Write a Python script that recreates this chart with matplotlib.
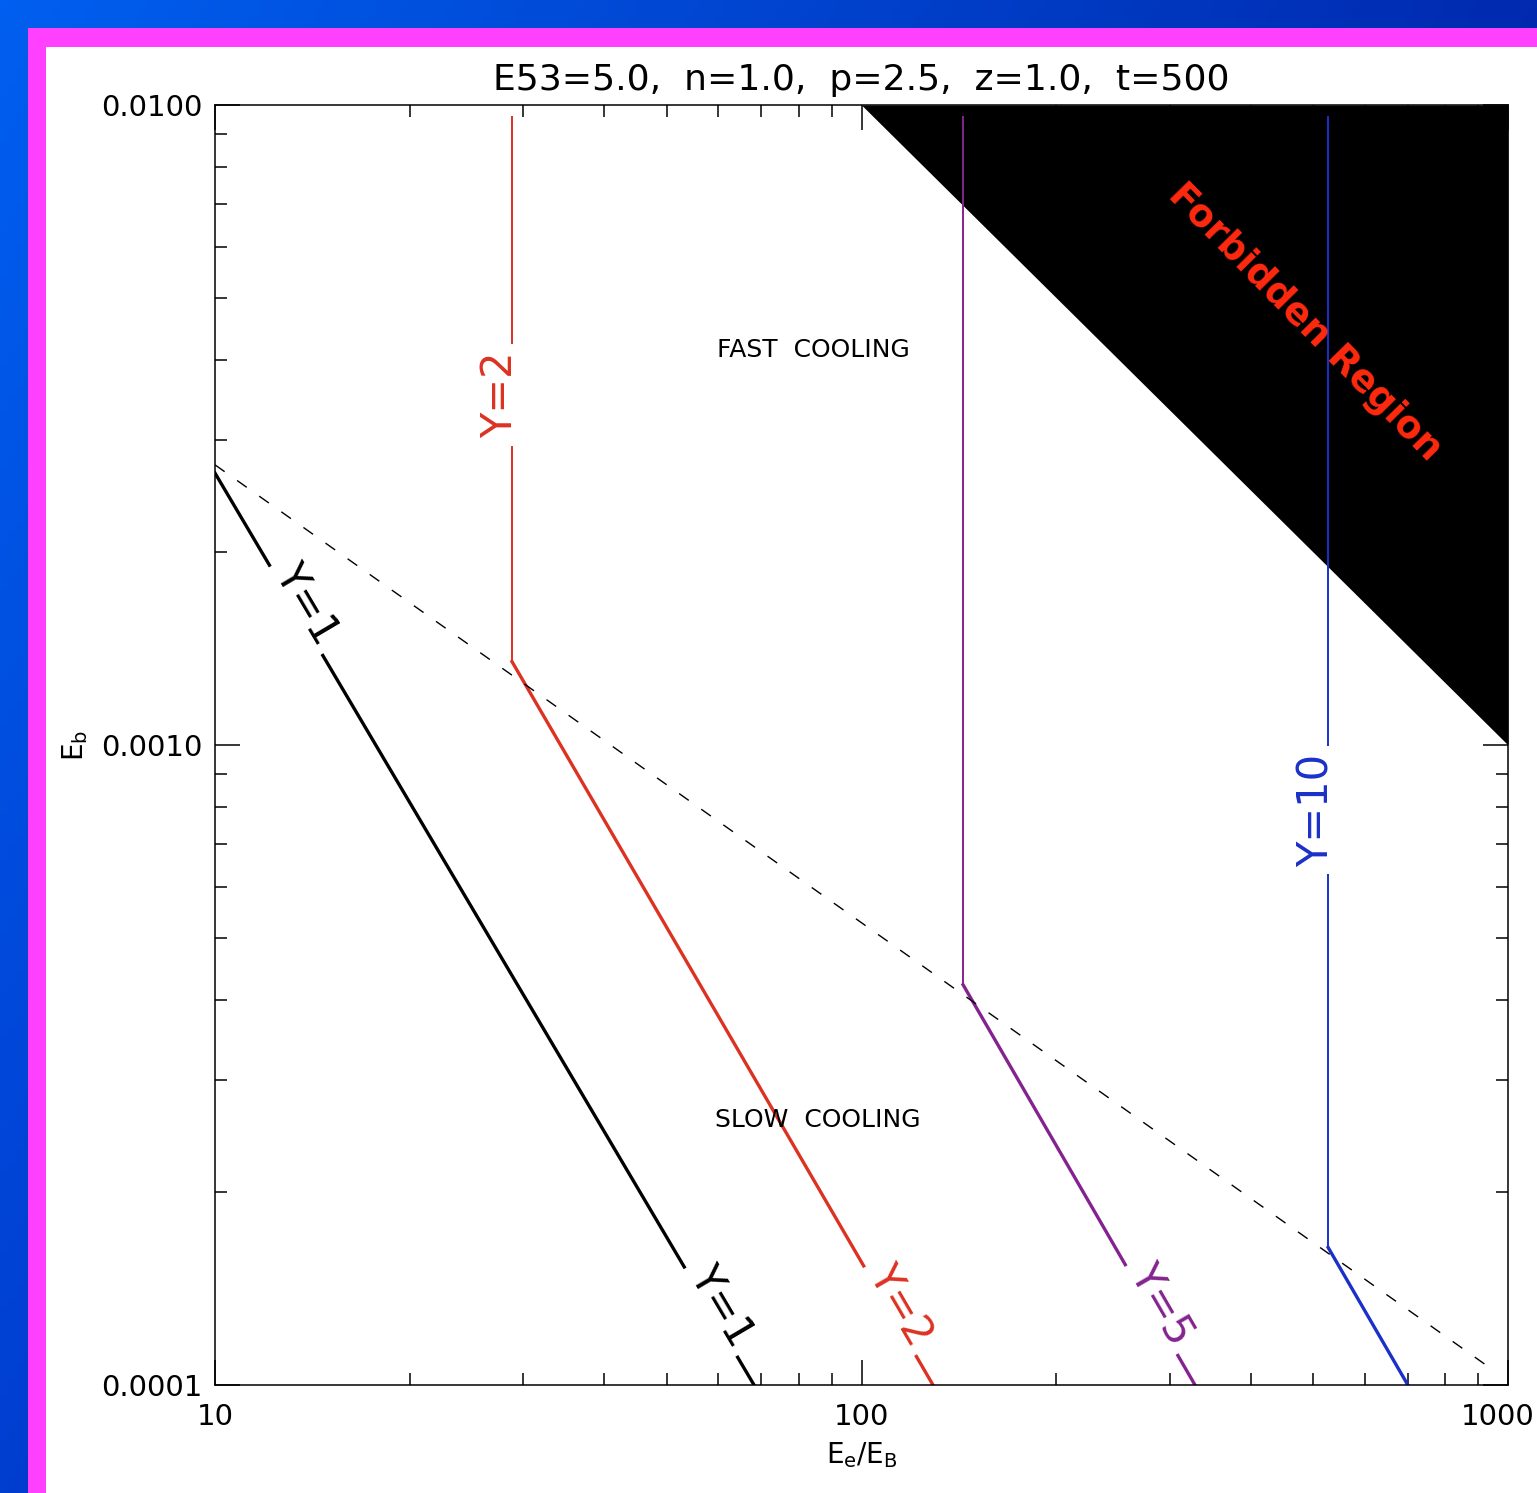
import numpy as np
import matplotlib.pyplot as plt
from matplotlib.patches import Rectangle
from matplotlib.ticker import NullFormatter
from matplotlib.transforms import ScaledTranslation

# cooling boundary (dashed) and the forbidden region edge
cool_x = [10, 930]
cool_y = [2.74e-3, 1.07e-4]
forbid_x = [100, 1000]
forbid_y = [1.0e-2, 1.0e-3]

# constant-Y curves: vertical part then the slanted part
y1_x = [10, 68.2]
y1_y = [2.66e-3, 1.0e-4]
y2_x = [28.8, 28.8, 129]
y2_y = [9.57e-3, 1.35e-3, 1.0e-4]
y5_x = [143.6, 143.6, 328]
y5_y = [9.57e-3, 4.22e-4, 1.0e-4]
y10_x = [527, 527, 700]
y10_y = [9.57e-3, 1.64e-4, 1.0e-4]

x_major = [10, 100, 1000]
x_major_lab = ['10', '100', '1000']
y_major = [1e-4, 1e-3, 1e-2]
y_major_lab = ['0.0001', '0.0010', '0.0100']

title = 'E53=5.0,  n=1.0,  p=2.5,  z=1.0,  t=500'

red = '#dc3222'
purple = '#84238f'
blue = '#1a30c8'

fig = plt.figure(figsize=(15.37, 14.93), dpi=100)

# blue gradient background, magenta frame, white page
bg = fig.add_axes([0, 0, 1, 1], zorder=-10)
yy, xx = np.mgrid[0:1:200j, 0:1:200j]
tl = np.array([0, 95, 240])
tr = np.array([0, 42, 175])
bl = np.array([0, 62, 208])
img = (tl + xx[..., None] * (tr - tl) + yy[..., None] * (bl - tl)) / 255.0
bg.imshow(np.clip(img, 0, 1), extent=[0, 1, 0, 1], aspect='auto', origin='upper')
bg.add_patch(Rectangle((28 / 1537, 0), 1, 1 - 28 / 1493, color='#ff40ff', lw=0))
bg.add_patch(Rectangle((46 / 1537, 0), 1, 1 - 47 / 1493, color='white', lw=0))
bg.set_xlim(0, 1)
bg.set_ylim(0, 1)
bg.axis('off')

ax = fig.add_axes([215 / 1537, 1 - 1385 / 1493, 1293 / 1537, 1280 / 1493])
ax.set_facecolor('white')
ax.set_xscale('log')
ax.set_yscale('log')
ax.set_xlim(10, 1000)
ax.set_ylim(1e-4, 1e-2)

ax.fill_between(forbid_x, forbid_y, 1e-2, color='black', lw=0, zorder=1)
ax.plot(cool_x, cool_y, color='black', lw=1.0, dashes=(8.5, 11), zorder=4)

ax.plot(y1_x, y1_y, color='black', lw=2.4, zorder=2)
for xs, ys, c in [(y2_x, y2_y, red), (y5_x, y5_y, purple), (y10_x, y10_y, blue)]:
    ax.plot(xs[:2], ys[:2], color=c, lw=1.4, zorder=2)
    ax.plot(xs[1:], ys[1:], color=c, lw=2.4, zorder=2)


def on_line(xs, ys, lx):
    ly = np.interp(np.log10(lx), np.log10(xs), np.log10(ys))
    return 10 ** ly


def angle(xs, ys):
    p0 = ax.transData.transform((xs[0], ys[0]))
    p1 = ax.transData.transform((xs[-1], ys[-1]))
    return np.degrees(np.arctan2(p1[1] - p0[1], p1[0] - p0[0]))


box = dict(boxstyle='square,pad=0.18', fc='white', ec='none')
lab_kw = dict(fontsize=30, ha='center', va='baseline', rotation_mode='anchor',
              bbox=box, zorder=3)

a1 = angle(y1_x, y1_y)
for lx in [13.35, 58.5]:
    ax.text(lx, on_line(y1_x, y1_y, lx), 'Y=1', color='black', rotation=a1, **lab_kw)
for xs, ys, c, t, lx in [(y2_x, y2_y, red, 'Y=2', 110.7),
                         (y5_x, y5_y, purple, 'Y=5', 281)]:
    ax.text(lx, on_line(xs[1:], ys[1:], lx), t, color=c,
            rotation=angle(xs[1:], ys[1:]), **lab_kw)
ax.text(y2_x[0], 3.52e-3, 'Y=2', color=red, rotation=90, **lab_kw)
ax.text(y10_x[0], 7.91e-4, 'Y=10', color=blue, rotation=90, **lab_kw)

ax.text(0.4625, 0.8086, 'FAST  COOLING', transform=ax.transAxes, fontsize=18,
        ha='center', va='center')
ax.text(0.4663, 0.207, 'SLOW  COOLING', transform=ax.transAxes, fontsize=18,
        ha='center', va='center', zorder=5)
ax.text(0.843, 0.830, 'Forbidden Region', transform=ax.transAxes, fontsize=27,
        fontweight='bold', color='#ff2a10', rotation=-45.5, ha='center',
        va='center', rotation_mode='anchor', zorder=5)

ax.set_xticks(x_major, x_major_lab)
ax.set_yticks(y_major, y_major_lab)
ax.set_xticks([v * d for d in (10, 100) for v in range(2, 10)], minor=True)
ax.set_yticks([v * d for d in (1e-4, 1e-3) for v in range(2, 10)], minor=True)
ax.xaxis.set_minor_formatter(NullFormatter())
ax.yaxis.set_minor_formatter(NullFormatter())
ax.tick_params(which='both', direction='in', top=True, right=True,
               width=1.1, labelsize=21, colors='black')
ax.tick_params(which='major', length=18)
ax.tick_params(which='minor', length=8.5)
ax.tick_params(axis='x', which='major', pad=13)
ax.tick_params(axis='y', which='major', pad=9)
for s in ax.spines.values():
    s.set_linewidth(1.1)

# keep the last x label inside the page edge
last = ax.get_xticklabels()[-1]
last.set_ha('right')
last.set_transform(last.get_transform() + ScaledTranslation(0.27, 0, fig.dpi_scale_trans))

ax.set_title(title, fontsize=26, pad=11)
ax.set_xlabel(r'E$_{\rm e}$/E$_{\rm B}$', fontsize=20)
ax.xaxis.set_label_coords(0.5, -0.043)
ax.set_ylabel(r'E$_{\rm b}$', fontsize=20)
ax.yaxis.set_label_coords(-0.097, 0.5)

fig.savefig('out.png', dpi=100)
